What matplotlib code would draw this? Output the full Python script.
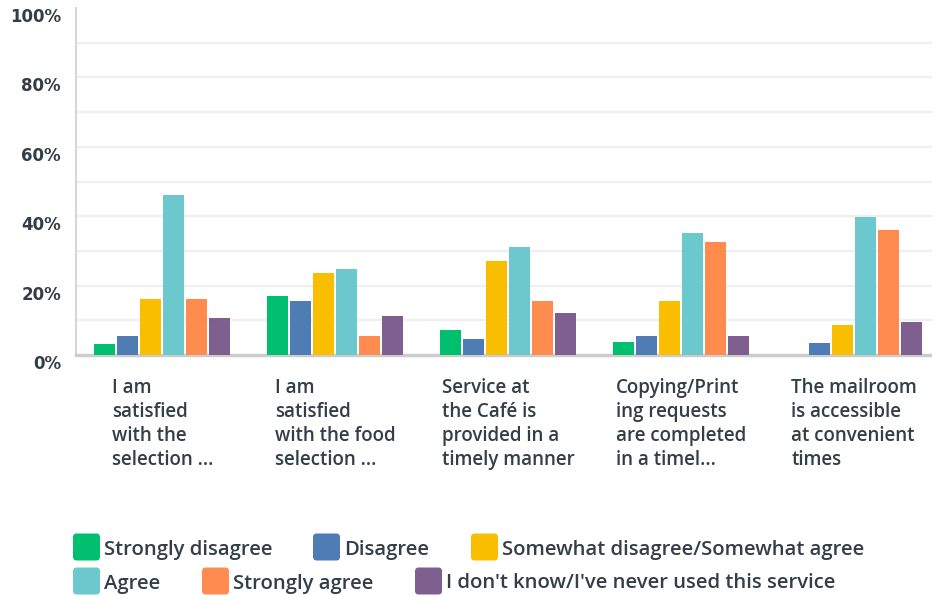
import matplotlib
matplotlib.use("Agg")
import matplotlib.pyplot as plt
import numpy as np
from matplotlib.patches import FancyBboxPatch

questions = [
    "I am\nsatisfied\nwith the\nselection ...",
    "I am\nsatisfied\nwith the food\nselection ...",
    "Service at\nthe Café is\nprovided in a\ntimely manner",
    "Copying/Print\ning requests\nare completed\nin a timel...",
    "The mailroom\nis accessible\nat convenient\ntimes",
]
answers = [
    "Strongly disagree",
    "Disagree",
    "Somewhat disagree/Somewhat agree",
    "Agree",
    "Strongly agree",
    "I don't know/I've never used this service",
]
# percent of respondents, one list per answer
strongly_disagree = [3.2, 17.0, 7.2, 3.7, 0.0]
disagree = [5.5, 15.6, 4.6, 5.5, 3.6]
somewhat = [16.1, 23.6, 27.1, 15.5, 8.6]
agree = [46.1, 24.8, 31.1, 35.1, 39.7]
strongly_agree = [16.1, 5.5, 15.5, 32.5, 36.0]
dont_know = [10.7, 11.2, 12.1, 5.5, 9.4]
series = [strongly_disagree, disagree, somewhat, agree, strongly_agree, dont_know]
colors = ["#00bf6f", "#507cb6", "#f9be00", "#6bc8cd", "#ff8b4f", "#7f5f90"]
yticks = [0, 20, 40, 60, 80, 100]

TEXT = "#333e48"
W, H = 932, 596
plt.rcParams["font.family"] = ["Open Sans", "DejaVu Sans"]

fig = plt.figure(figsize=(W / 100, H / 100), dpi=100)
ax = fig.add_axes([76 / W, (H - 355) / H, (932 - 76) / W, 347 / H])

x = np.arange(len(questions))
slot = 0.133
for i, (vals, c) in enumerate(zip(series, colors)):
    ax.bar(x + (i - 2.5) * slot, vals, width=0.1216, color=c, zorder=3)

ax.set_xlim(-0.5, 4.45)
ax.set_ylim(0, 100)
for y in range(10, 100, 10):
    ax.axhline(y, color="#efefef", lw=1.6, zorder=1)

# y labels sit a little below their gridlines
ax.set_yticks([])
ax.set_xticks([])
for v in yticks:
    ax.annotate(f"{v}%", xy=(0, v), xycoords=("axes fraction", "data"),
                xytext=(-15, -9), textcoords="offset pixels",
                ha="right", va="center", fontsize=12, fontweight="bold",
                family="DejaVu Sans", color=TEXT, annotation_clip=False)

for side in ["top", "right"]:
    ax.spines[side].set_visible(False)
ax.spines["left"].set_color("#d6d6d6")
ax.spines["left"].set_linewidth(1.5)
ax.spines["bottom"].set_color("#cccccc")
ax.spines["bottom"].set_linewidth(2.5)

# category labels under each group
for xi, q in zip(x, questions):
    ax.text(xi, -0.066, q, transform=ax.get_xaxis_transform(),
            ha="center", va="top", multialignment="left",
            fontsize=13.5, fontweight="semibold", color=TEXT, linespacing=1.27)

# two-row legend laid out by hand
legend_rows = [(547, [(0, 73), (1, 313), (2, 471)]),
               (581, [(3, 73), (4, 202), (5, 415)])]
for yc, items in legend_rows:
    for k, xp in items:
        box = FancyBboxPatch((xp / W, (H - yc - 13.5) / H), 27 / W, 27 / H,
                             boxstyle="round,pad=0,rounding_size=0.004",
                             mutation_aspect=W / H, transform=fig.transFigure,
                             facecolor=colors[k], edgecolor="none")
        fig.add_artist(box)
        fig.text((xp + 31) / W, (H - yc) / H, answers[k], ha="left",
                 va="center_baseline", fontsize=14.6, fontweight="semibold",
                 color=TEXT)

fig.savefig("out.png", dpi=100, facecolor="white")
